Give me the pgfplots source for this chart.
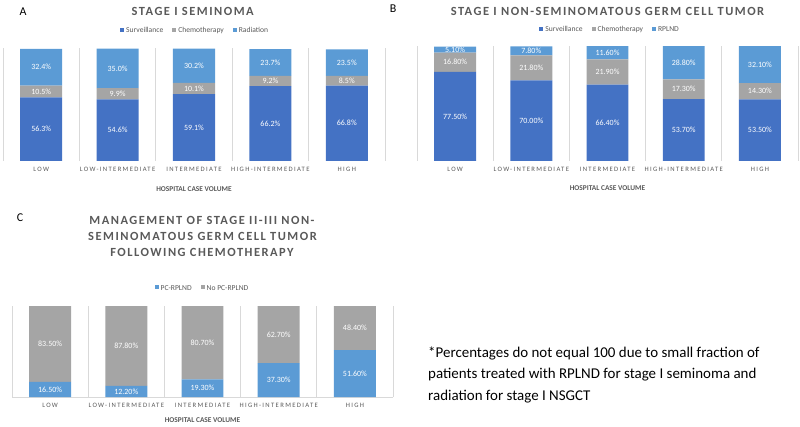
\documentclass[border=0pt]{standalone}
\usepackage{pgfplots}
\pgfplotsset{compat=1.18}
\usepackage{fontspec}
\setmainfont{Carlito}
\newfontfamily\titlefont[LetterSpace=12]{Carlito}
\newfontfamily\tickfont[LetterSpace=20]{Carlito}
\definecolor{cdark}{HTML}{4472C4}
\definecolor{cgray}{HTML}{A5A5A5}
\definecolor{clight}{HTML}{5B9BD5}
\definecolor{ctext}{HTML}{595959}
\definecolor{cgrid}{HTML}{D9D9D9}

\pgfplotsset{
  panel/.style={
    scale only axis,
    ybar stacked,
    bar width=0.55,
    ymin=0, ymax=100,
    xmin=-0.5, xmax=4.5,
    xtick={0,...,4},
    xticklabels={LOW,LOW-INTERMEDIATE,INTERMEDIATE,HIGH-INTERMEDIATE,HIGH},
    ytick=\empty,
    minor xtick={-0.5,0.5,1.5,2.5,3.5,4.5},
    xminorgrids=true,
    minor grid style={cgrid, line width=0.8pt},
    major tick length=0pt, minor tick length=0pt,
    axis line style={draw=none},
    xticklabel style={font=\tickfont\fontsize{6.7}{8}\selectfont, text=ctext, anchor=center, yshift=-8.5bp},
    xlabel={HOSPITAL CASE VOLUME},
    xlabel style={font=\bfseries\fontsize{7.4}{8}\selectfont, text=ctext, anchor=center},
    legend style={draw=none, fill=none, legend columns=-1, font=\fontsize{7.6}{9}\selectfont, text=ctext, anchor=center,
      /tikz/every even column/.append style={column sep=7bp}},
    legend image code/.code={\fill[##1] (0bp,-0.5bp) rectangle (4bp,3.5bp);},
    /pgf/number format/assume math mode=true,
    visualization depends on={rawy \as \rawy},
    every node near coord/.append style={font=\fontsize{8}{9}\selectfont, text=white, anchor=center},
  },
  lab1/.style={nodes near coords={\pgfmathprintnumber[fixed,fixed zerofill,precision=1]{\rawy}\%}},
  lab2/.style={nodes near coords={\pgfmathprintnumber[fixed,fixed zerofill,precision=2]{\rawy}\%}},
}

\begin{document}
\begin{tikzpicture}[x=1bp,y=1bp]
\useasboundingbox (0,0) rectangle (800,426);

% ---------------- Panel A ----------------
\begin{axis}[panel, lab1,
  at={(3bp,265bp)}, anchor=south west, width=382bp, height=113bp,
  xlabel style={at={(axis description cs:0.5,-0.248)}},
  legend style={at={(axis description cs:0.503,1.15)}}]
\addplot[fill=cdark, draw=none] coordinates {(0,56.3) (1,54.6) (2,59.1) (3,66.2) (4,66.8)};
\addplot[fill=cgray, draw=none] coordinates {(0,10.5) (1,9.9) (2,10.1) (3,9.2) (4,8.5)};
\addplot[fill=clight, draw=none] coordinates {(0,32.4) (1,35.0) (2,30.2) (3,23.7) (4,23.5)};
\legend{Surveillance, Chemotherapy, Radiation}
\draw[cgrid, line width=0.8pt] (axis cs:-0.5,0) -- (axis cs:4.5,0);
\end{axis}

% ---------------- Panel B ----------------
\begin{axis}[panel, lab2,
  at={(417bp,265bp)}, anchor=south west, width=381bp, height=115bp,
  xlabel style={at={(axis description cs:0.5,-0.235)}},
  legend style={at={(axis description cs:0.507,1.139)}}]
\addplot[fill=cdark, draw=none] coordinates {(0,77.5) (1,70.0) (2,66.4) (3,53.7) (4,53.5)};
\addplot[fill=cgray, draw=none] coordinates {(0,16.8) (1,21.8) (2,21.9) (3,17.3) (4,14.3)};
\addplot[fill=clight, draw=none] coordinates {(0,5.1) (1,7.8) (2,11.6) (3,28.8) (4,32.1)};
\legend{Surveillance, Chemotherapy, RPLND}
\draw[cgrid, line width=0.8pt] (axis cs:-0.5,0) -- (axis cs:4.5,0);
\end{axis}

% ---------------- Panel C ----------------
\begin{axis}[panel, lab2,
  at={(12bp,29bp)}, anchor=south west, width=381bp, height=91bp,
  xlabel style={at={(axis description cs:0.5,-0.253)}},
  legend style={at={(axis description cs:0.50,1.187)}}]
\addplot[fill=clight, draw=none] coordinates {(0,16.5) (1,12.2) (2,19.3) (3,37.3) (4,51.6)};
\addplot[fill=cgray, draw=none] coordinates {(0,83.5) (1,87.8) (2,80.7) (3,62.7) (4,48.4)};
\legend{PC-RPLND, No PC-RPLND}
\draw[cgrid, line width=0.8pt] (axis cs:-0.5,0) -- (axis cs:4.5,0);
\end{axis}

% ---------------- Titles ----------------
\tikzset{ttl/.style={font=\titlefont\bfseries\fontsize{12.5}{14}\selectfont, text=ctext, inner sep=0pt}}
\node[ttl] at (192.7,415) {STAGE I SEMINOMA};
\node[ttl] at (607.5,415) {STAGE I NON-SEMINOMATOUS GERM CELL TUMOR};
\node[ttl] at (202,206) {MANAGEMENT OF STAGE II-III NON-};
\node[ttl] at (202.5,190) {SEMINOMATOUS GERM CELL TUMOR};
\node[ttl] at (202,173.3) {FOLLOWING CHEMOTHERAPY};

% panel letters
\tikzset{plab/.style={font=\fontsize{12}{14}\selectfont, inner sep=0pt}}
\node[plab] at (23,414) {A};
\node[plab] at (393,417) {B};
\node[plab] at (20,208) {C};

% footnote
\tikzset{fn/.style={font=\fontsize{15}{18}\selectfont, anchor=base west, inner sep=0pt}}
\node[fn] at (428,69) {*Percentages do not equal 100 due to small fraction of};
\node[fn] at (428,48) {patients treated with RPLND for stage I seminoma and};
\node[fn] at (428,26) {radiation for stage I NSGCT};
\end{tikzpicture}
\end{document}
